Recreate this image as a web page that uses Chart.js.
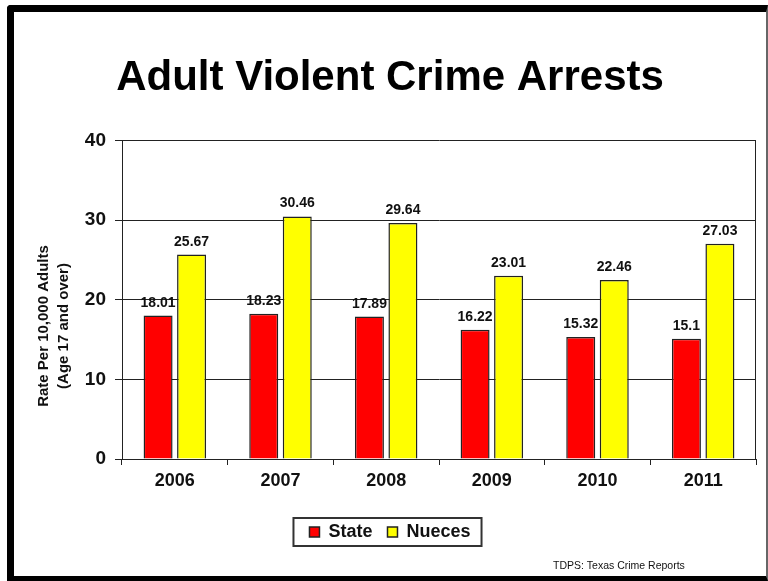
<!DOCTYPE html>
<html>
<head>
<meta charset="utf-8">
<title>Adult Violent Crime Arrests</title>
<script src="https://cdn.jsdelivr.net/npm/chart.js@4/dist/chart.umd.min.js"></script>
<style>
  html, body { margin: 0; padding: 0; background: #fff; }
  #wrap { position: relative; width: 768px; height: 581px; overflow: hidden; }
  #frame {
    position: absolute; left: 7px; top: 5px; width: 761px; height: 576px; box-sizing: border-box;
    border-left: 7px solid #000; border-top: 7px solid #000; border-bottom: 5px solid #000;
    border-right: 2px solid #666; border-top-left-radius: 4px;
  }
  canvas { position: absolute; left: 0; top: 0; }
</style>
</head>
<body>
<div id="wrap">
  <div id="frame"></div>
  <canvas id="crime-chart" width="768" height="581"></canvas>
</div>
<script>
const years = ['2006', '2007', '2008', '2009', '2010', '2011'];
const stateRates = [18.01, 18.23, 17.89, 16.22, 15.32, 15.1];
const nuecesRates = [25.67, 30.46, 29.64, 23.01, 22.46, 27.03];
const yMin = 0, yMax = 40, yStep = 10;
const chartTitle = 'Adult Violent Crime Arrests';
const yTitleLines = ['Rate Per 10,000 Adults', '(Age 17 and over)'];
const sourceNote = 'TDPS: Texas Crime Reports';

const FONT = '"Liberation Sans", Arial, sans-serif';
Chart.defaults.font.family = FONT;

// value labels over each bar
const barLabels = {
  id: 'barLabels',
  afterDatasetsDraw(chart) {
    const ctx = chart.ctx;
    ctx.save();
    ctx.font = 'bold 14px ' + FONT;
    ctx.fillStyle = '#111';
    ctx.textAlign = 'center';
    ctx.textBaseline = 'alphabetic';
    chart.data.datasets.forEach((ds, i) => {
      chart.getDatasetMeta(i).data.forEach((bar, j) => {
        ctx.fillText(String(ds.data[j]), bar.x, bar.y - 9);
      });
    });
    ctx.restore();
  }
};

// plot right edge, legend frame, two-line axis title, source note
const extras = {
  id: 'extras',
  afterDraw(chart) {
    const { ctx, chartArea: a } = chart;
    ctx.save();
    ctx.strokeStyle = '#222';
    ctx.lineWidth = 1;
    const rx = Math.round(a.right) - 0.5;
    ctx.beginPath();
    ctx.moveTo(rx, a.top);
    ctx.lineTo(rx, a.bottom);
    ctx.stroke();

    const boxes = chart.legend.legendHitBoxes;
    if (boxes.length) {
      const last = boxes[boxes.length - 1];
      const l = boxes[0].left - 16;
      const r = last.left + last.width + 11;
      const cy = boxes[0].top + boxes[0].height / 2;
      ctx.lineWidth = 2;
      ctx.strokeStyle = '#333';
      ctx.strokeRect(l, cy - 14, r - l, 28);
    }

    ctx.font = 'bold 15px ' + FONT;
    ctx.fillStyle = '#111';
    ctx.textAlign = 'center';
    ctx.textBaseline = 'middle';
    ctx.save();
    ctx.translate(54, 326);
    ctx.rotate(-Math.PI / 2);
    ctx.fillText(yTitleLines[0], 0, -10);
    ctx.fillText(yTitleLines[1], 0, 10);
    ctx.restore();

    ctx.font = '10.5px ' + FONT;
    ctx.textAlign = 'left';
    ctx.textBaseline = 'alphabetic';
    ctx.fillText(sourceNote, 553, 569);
    ctx.restore();
  }
};

new Chart(document.getElementById('crime-chart'), {
  type: 'bar',
  data: {
    labels: years,
    datasets: [
      { label: 'State', data: stateRates, backgroundColor: '#ff0000', borderColor: '#222', borderWidth: 1.5 },
      { label: 'Nueces', data: nuecesRates, backgroundColor: '#ffff00', borderColor: '#222', borderWidth: 1.5 }
    ]
  },
  options: {
    responsive: false,
    animation: false,
    categoryPercentage: 0.634,
    barPercentage: 0.866,
    layout: { padding: { left: 24, right: 12, top: 20, bottom: 30 } },
    plugins: {
      title: {
        display: true,
        text: chartTitle,
        color: '#000',
        font: { size: 42, weight: 'bold' },
        padding: { top: 33, bottom: 37 }
      },
      legend: {
        position: 'bottom',
        labels: {
          boxWidth: 10,
          boxHeight: 10,
          padding: 15,
          color: '#111',
          font: { size: 18, weight: 'bold' }
        }
      },
      tooltip: { enabled: false }
    },
    scales: {
      x: {
        grid: { display: true, drawOnChartArea: false, tickLength: 6, color: '#222' },
        border: { color: '#222' },
        ticks: { color: '#111', font: { size: 18, weight: 'bold' }, padding: 5 },
        afterFit: (s) => { s.height = 49; }
      },
      y: {
        min: yMin,
        max: yMax,
        ticks: { stepSize: yStep, padding: 9, color: '#111', font: { size: 19, weight: 'bold' } },
        grid: { color: '#222', tickLength: 7 },
        border: { color: '#222' },
        afterFit: (s) => { s.width = 98; }
      }
    }
  },
  plugins: [barLabels, extras]
});
</script>
</body>
</html>
